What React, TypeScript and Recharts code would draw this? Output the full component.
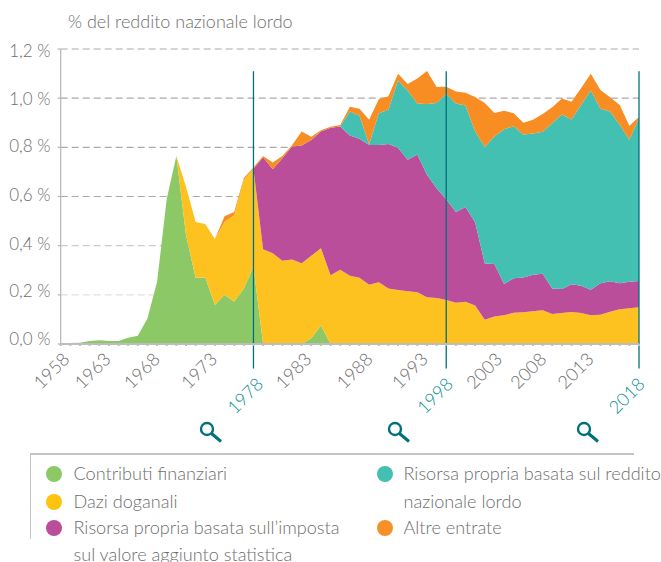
import React from "react";
import { ComposedChart, Area, XAxis, YAxis, CartesianGrid, ReferenceLine } from "recharts";

const startYear = 1958;
const contributi = [.002,.002,.005,.012,.015,.012,.012,.025,.034,.104,.253,.59,.765,.443,.27,.271,.159,.2,.172,.226,.314,0,0,0,0,0,.023,.075,0,0,0,0,0,0,0,0,0,0,0,0,0,0,0,0,0,0,0,0,0,0,0,0,0,0,0,0,0,0,0,0,0];
const dazi = [0,0,0,0,0,0,0,0,0,0,0,0,0,.197,.226,.217,.268,.297,.352,.442,.399,.385,.369,.339,.344,.328,.336,.315,.28,.302,.278,.27,.241,.251,.226,.22,.215,.211,.19,.187,.179,.168,.172,.157,.099,.112,.117,.127,.129,.133,.137,.122,.126,.13,.126,.117,.119,.131,.141,.145,.149];
const iva = [0,0,0,0,0,0,0,0,0,0,0,0,0,0,0,0,0,0,0,0,0,.375,.342,.417,.459,.479,.471,.474,.6,.583,.57,.565,.568,.558,.588,.578,.534,.56,.498,.447,.41,.369,.385,.338,.228,.213,.127,.14,.142,.149,.149,.104,.098,.113,.111,.104,.128,.124,.106,.108,.107];
const rnl = [0,0,0,0,0,0,0,0,0,0,0,0,0,0,0,0,0,0,0,0,0,0,0,0,0,0,0,0,0,0,.098,.093,.004,.13,.139,.274,.282,.207,.288,.346,.429,.441,.413,.369,.474,.519,.63,.619,.581,.574,.577,.672,.71,.67,.736,.81,.71,.691,.645,.578,.663];
const altre = [.002,.002,0,0,0,0,0,0,0,0,0,0,0,0,0,0,0,.023,.013,.007,.005,.005,.027,.009,.005,.057,.013,.006,.004,.006,.019,.029,.099,.057,.055,.027,.027,.102,.135,.065,.028,.049,.052,.141,.179,.096,.075,.053,.048,.056,.073,.065,.065,.072,.068,.068,.076,.058,.08,.057,.004];

const labelYears = [1958,1963,1968,1973,1978,1983,1988,1993,1998,2003,2008,2013,2018];
const highlightYears = [1978,1998,2018];
const yTicks = [0,0.2,0.4,0.6,0.8,1.0,1.2];
const title = "% del reddito nazionale lordo";
const legendLeft = [
  { label: ["Contributi finanziari"], color: "#8cc866", top: 474 },
  { label: ["Dazi doganali"], color: "#ffc20e", top: 501.5 },
  { label: ["Risorsa propria basata sull’imposta", "sul valore aggiunto statistica"], color: "#bb4e9b", top: 527.5 },
];
const legendRight = [
  { label: ["Risorsa propria basata sul reddito", "nazionale lordo"], color: "#44c0b3", top: 474 },
  { label: ["Altre entrate"], color: "#f79028", top: 527.5 },
];

const data = contributi.map((_, i) => ({
  year: startYear + i,
  contributi: contributi[i], dazi: dazi[i], iva: iva[i], rnl: rnl[i], altre: altre[i],
}));
const allYears = data.map((d) => d.year);

const FONT = "Lato, sans-serif";
const WEIGHT = 300;
const GRAY = "#6e6e6e";
const TEAL = "#00717a";
const labelDx: Record<number, number> = {1958:-9,1963:-16,1968:-15,1973:-6,1978:-8,1983:-8,1988:5,1993:12,1998:-11,2003:-10,2008:-14,2013:-15,2018:-12};
const yLabelDy: Record<string, number> = {"1.2":2,"1.0":1,"0.8":-1,"0.6":-2,"0.4":-2,"0.2":-4,"0.0":-5};

const XTick = (p: any) => {
  const v = p.payload.value;
  if (!labelYears.includes(v)) return <g />;
  const hi = highlightYears.includes(v);
  const cx = p.x + labelDx[v];
  const cy = 344 + (hi ? 52 : 27);
  return (
    <text x={cx} y={cy} dy={6} textAnchor="middle" fontFamily={FONT} fontWeight={WEIGHT} fontSize={18}
      fill={hi ? "#0f8f95" : GRAY} transform={`rotate(-45 ${cx} ${cy})`}>{v}</text>
  );
};
const YTick = (p: any) => {
  const k = Number(p.payload.value).toFixed(1);
  return (
    <text x={50.5} y={p.y + yLabelDy[k]} dy={6} textAnchor="end" fontFamily={FONT} fontWeight={WEIGHT} fontSize={17} fill={GRAY}>
      {k.replace(".", ",")} %
    </text>
  );
};

const Lens = ({ x }: { x: number }) => (
  <svg style={{ position: "absolute", left: x - 10, top: 419, overflow: "visible" }} width={26} height={26}>
    <circle cx={10} cy={10} r={6} fill="none" stroke={TEAL} strokeWidth={2.4} />
    <line x1={14.5} y1={14.5} x2={24} y2={22.5} stroke={TEAL} strokeWidth={3} />
  </svg>
);

const LegendCol = ({ items, dot, text }: { items: typeof legendLeft; dot: number; text: number }) => (
  <>
    {items.map((it) => (
      <React.Fragment key={it.label[0]}>
        <div style={{ position: "absolute", left: dot - 8, top: it.top - 8, width: 16, height: 16, borderRadius: 8, background: it.color }} />
        {it.label.map((l, j) => (
          <div key={l} style={{ position: "absolute", left: text - 0.5, top: it.top - 13 + j * 27.5, height: 24, lineHeight: "24px", whiteSpace: "nowrap", fontFamily: FONT, fontWeight: WEIGHT, fontSize: 18.1, color: GRAY }}>{l}</div>
        ))}
      </React.Fragment>
    ))}
  </>
);

export default function App() {
  return (
    <div style={{ position: "absolute", left: 0, top: 0, width: 661, height: 562, overflow: "hidden", background: "#fff" }}>
      <div style={{ position: "absolute", left: 68, top: 9, lineHeight: "24px", fontFamily: FONT, fontWeight: WEIGHT, fontSize: 18, color: GRAY, whiteSpace: "nowrap" }}>{title}</div>
      <ComposedChart width={661} height={562} data={data} margin={{ top: 49, right: 22, bottom: 0, left: 0 }} style={{ position: "absolute", left: 0, top: 0 }}>
        <CartesianGrid vertical={false} horizontalValues={[0.6,0.8,1.0,1.2]} stroke="#aaaaaa" strokeWidth={1.2} strokeDasharray="7 4" />
        <CartesianGrid vertical={false} horizontalValues={[0.4]} stroke="#cccccc" strokeWidth={1.2} strokeDasharray="7 4" />
        <CartesianGrid vertical={false} horizontalValues={[0.2]} stroke="#e2e2e2" strokeWidth={1.2} strokeDasharray="7 4" />
        <XAxis dataKey="year" type="number" domain={[1958,2018]} ticks={allYears} interval={0} height={218}
          tick={<XTick />} tickSize={2} stroke="#bdbdbd" strokeWidth={2} />
        <YAxis type="number" domain={[0,1.2]} ticks={yTicks} width={60.7} tick={<YTick />} tickSize={3} stroke="#b5b5b5" strokeWidth={1.2} interval={0} />
        <Area dataKey="contributi" stackId="1" type="linear" fill="#8cc866" fillOpacity={1} stroke="none" isAnimationActive={false} />
        <Area dataKey="dazi" stackId="1" type="linear" fill="#fdc220" fillOpacity={1} stroke="none" isAnimationActive={false} />
        <Area dataKey="iva" stackId="1" type="linear" fill="#bb4e9b" fillOpacity={1} stroke="none" isAnimationActive={false} />
        <Area dataKey="rnl" stackId="1" type="linear" fill="#44c0b3" fillOpacity={1} stroke="none" isAnimationActive={false} />
        <Area dataKey="altre" stackId="1" type="linear" fill="#f78d23" fillOpacity={1} stroke="none" isAnimationActive={false} />
        {highlightYears.map((y) => (
          <ReferenceLine key={y} segment={[{ x: y, y: 1.11 }, { x: y, y: -0.1 }]} ifOverflow="visible" stroke={TEAL} strokeWidth={1.3} />
        ))}
      </ComposedChart>
      <Lens x={207} /><Lens x={395} /><Lens x={584} />
      <div style={{ position: "absolute", left: 30, top: 453, width: 604, height: 1.5, background: "#c4c4c4" }} />
      <div style={{ position: "absolute", left: 29.5, top: 453, width: 1.5, height: 86, background: "#c4c4c4" }} />
      <LegendCol items={legendLeft} dot={54} text={74} />
      <LegendCol items={legendRight} dot={385} text={404} />
    </div>
  );
}
